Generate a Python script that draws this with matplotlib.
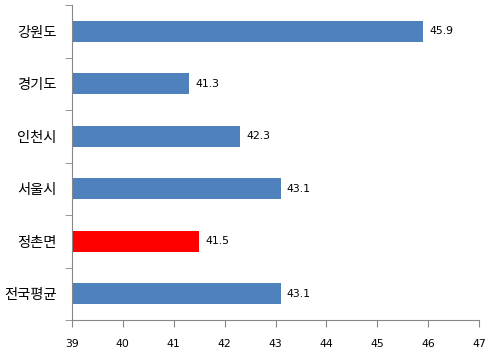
import matplotlib.pyplot as plt
import numpy as np

plt.rcParams['font.family'] = ['Noto Sans CJK KR', 'DejaVu Sans']

regions = ['강원도', '경기도', '인천시', '서울시', '정촌면', '전국평균']
values = [45.9, 41.3, 42.3, 43.1, 41.5, 43.1]
colors = ['#4F81BD', '#4F81BD', '#4F81BD', '#4F81BD', '#FF0000', '#4F81BD']
base = 39
xticks = [39, 40, 41, 42, 43, 44, 45, 46, 47]

fig = plt.figure(figsize=(4.96, 3.56), dpi=100)
ax = fig.add_axes([72/496, 36/356, 407/496, 315/356])

y = np.arange(len(regions))[::-1]
ax.barh(y, [v - base for v in values], left=base, height=0.4, color=colors)
for yi, v in zip(y, values):
    ax.text(v + 0.12, yi, '%.1f' % v, va='center', ha='left',
            fontsize=7.8, family='DejaVu Sans')

ax.set_xlim(39, 47)
ax.set_ylim(-0.5, len(regions) - 0.5)
ax.set_xticks(xticks)
ax.set_xticklabels([str(t) for t in xticks], fontsize=7.8, family='DejaVu Sans')
ax.set_yticks(y)
ax.set_yticklabels(regions, fontsize=10.3)
ax.set_yticks(np.arange(-0.5, len(regions)), minor=True)
ax.tick_params(axis='y', which='major', length=0, pad=11)
ax.tick_params(axis='y', which='minor', length=5, color='#868686')
ax.tick_params(axis='x', length=5, color='#868686', pad=9)

for s in ['top', 'right']:
    ax.spines[s].set_visible(False)
for s in ['left', 'bottom']:
    ax.spines[s].set_color('#868686')

fig.savefig('out.png', dpi=100)
